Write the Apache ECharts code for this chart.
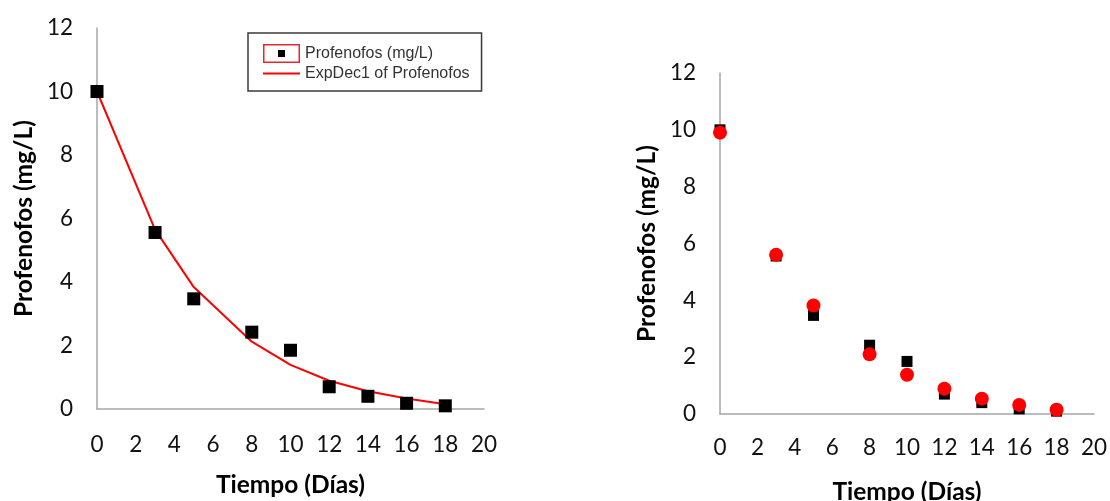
<!DOCTYPE html>
<html>
<head>
<meta charset="utf-8">
<script src="https://cdn.jsdelivr.net/npm/echarts@6/dist/echarts.min.js"></script>
<style>
html,body{margin:0;padding:0;background:#fff;}
#chart{width:1110px;height:501px;}
</style>
</head>
<body>
<div id="chart"></div>
<script>
// Data
var days = [0, 3, 5, 8, 10, 12, 14, 16, 18];
var measured = [10.0, 5.56, 3.47, 2.42, 1.85, 0.70, 0.40, 0.18, 0.10];
var fitted = [10.0, 5.65, 3.84, 2.12, 1.39, 0.89, 0.56, 0.33, 0.15];
var predicted = [9.9, 5.6, 3.82, 2.1, 1.38, 0.89, 0.54, 0.32, 0.15];
var xTicks = [0, 2, 4, 6, 8, 10, 12, 14, 16, 18, 20];
var yTicks = [0, 2, 4, 6, 8, 10, 12];
var xTitle = 'Tiempo (Días)';
var yTitle = 'Profenofos (mg/L)';
var legendNames = ['Profenofos (mg/L)', 'ExpDec1 of Profenofos'];

function pairs(xs, ys) { return xs.map(function (x, i) { return [x, ys[i]]; }); }
function svgIcon(body) {
  var s = "<svg xmlns='http://www.w3.org/2000/svg' width='37' height='19' viewBox='0 0 37 19'>" + body + "</svg>";
  return 'image://data:image/svg+xml;charset=utf-8,' + encodeURIComponent(s);
}
var markerIcon = svgIcon("<rect x='0.75' y='0.75' width='35.5' height='17.5' fill='white' stroke='#e8262b' stroke-width='1.5'/><rect x='15' y='6' width='7' height='7' fill='black'/>");
var lineIcon = svgIcon("<rect x='0' y='8.5' width='37' height='2' fill='#ff0000'/>");

var tickFont = { fontFamily: 'Lato', fontSize: 22.5, color: '#111' };
var titleFont = { fontFamily: 'Lato', fontSize: 24.5, fontWeight: 'bold', color: '#000' };
var axisLine = { show: true, lineStyle: { color: '#a6a6a6', width: 1.5 } };

function xAxis(gi, margin, gap) {
  return {
    type: 'value', gridIndex: gi, min: xTicks[0], max: xTicks[xTicks.length - 1], interval: 2,
    axisLine: axisLine, axisTick: { show: false }, splitLine: { show: false },
    axisLabel: Object.assign({ margin: margin }, tickFont),
    name: xTitle, nameLocation: 'middle', nameGap: gap, nameTextStyle: titleFont
  };
}
function yAxis(gi) {
  return {
    type: 'value', gridIndex: gi, min: yTicks[0], max: yTicks[yTicks.length - 1], interval: 2,
    axisLine: axisLine, axisTick: { show: false }, splitLine: { show: false },
    axisLabel: Object.assign({ margin: 24 }, tickFont),
    name: yTitle, nameLocation: 'middle', nameGap: 60, nameTextStyle: titleFont
  };
}

var chart = echarts.init(document.getElementById('chart'), null, { renderer: 'canvas' });
chart.setOption({
  animation: false,
  backgroundColor: '#ffffff',
  grid: [
    { left: 97, top: 28, right: 626, bottom: 92, containLabel: false, outerBoundsMode: 'none' },
    { left: 720, top: 73, right: 16, bottom: 87, containLabel: false, outerBoundsMode: 'none' }
  ],
  xAxis: [xAxis(0, 24, 64), xAxis(1, 22, 66)],
  yAxis: [yAxis(0), yAxis(1)],
  legend: {
    left: 248, top: 33, orient: 'vertical',
    padding: [11, 12, 8, 15], itemGap: 1,
    itemWidth: 37, itemHeight: 19,
    borderColor: '#3a3a3a', borderWidth: 1.5, backgroundColor: '#fff',
    textStyle: { fontFamily: 'Liberation Sans', fontSize: 16, color: '#333' },
    data: [
      { name: legendNames[0], icon: markerIcon },
      { name: legendNames[1], icon: lineIcon }
    ]
  },
  series: [
    {
      name: legendNames[1], type: 'line', xAxisIndex: 0, yAxisIndex: 0,
      data: pairs(days, fitted), symbol: 'none', z: 2,
      lineStyle: { color: '#ff0000', width: 2 }, itemStyle: { color: '#ff0000' }
    },
    {
      name: legendNames[0], type: 'scatter', xAxisIndex: 0, yAxisIndex: 0,
      data: pairs(days, measured), symbol: 'rect', symbolSize: 13, z: 3,
      itemStyle: { color: '#000', opacity: 1 }
    },
    {
      name: 'medido', type: 'scatter', xAxisIndex: 1, yAxisIndex: 1,
      data: pairs(days, measured), symbol: 'rect', symbolSize: 11, z: 3,
      itemStyle: { color: '#000', opacity: 1 }
    },
    {
      name: 'modelo', type: 'scatter', xAxisIndex: 1, yAxisIndex: 1,
      data: pairs(days, predicted), symbol: 'circle', symbolSize: 14, z: 4,
      itemStyle: { color: '#ff0000', opacity: 1 }
    }
  ]
});
</script>
</body>
</html>
